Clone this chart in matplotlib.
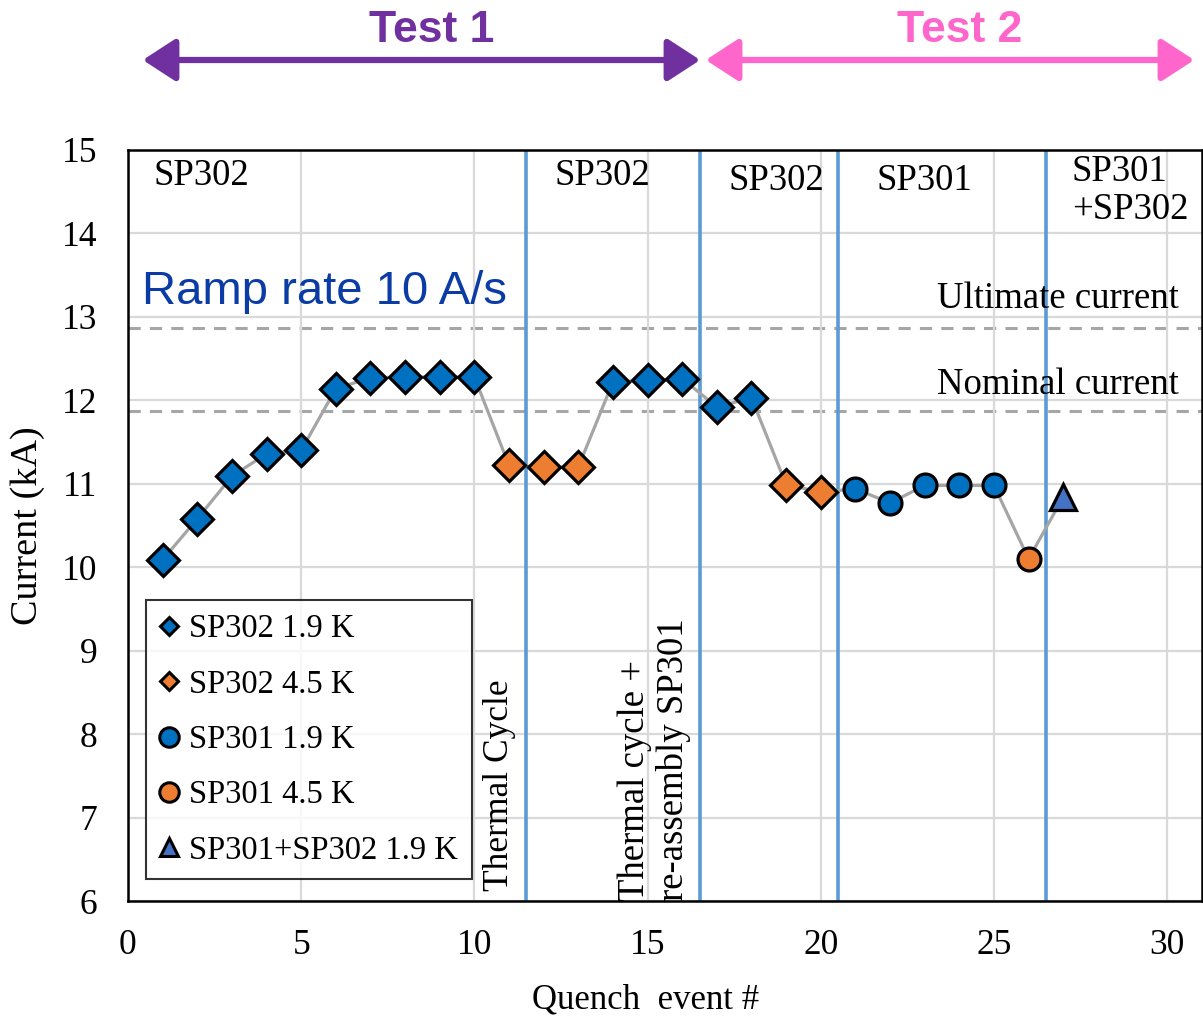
import numpy as np
import matplotlib.pyplot as plt
from matplotlib.lines import Line2D
from matplotlib.patches import FancyArrowPatch

# quench history
events = np.arange(1, 28)
current = [10.09, 10.58, 11.09, 11.36, 11.40, 12.14, 12.27, 12.28, 12.28, 12.28,
           11.22, 11.20, 11.20, 12.22, 12.24, 12.26, 11.92, 12.03, 10.99, 10.90,
           10.94, 10.77, 10.98, 10.98, 10.98, 10.10, 10.84]
series = ['SP302 1.9 K'] * 10 + ['SP302 4.5 K'] * 3 + ['SP302 1.9 K'] * 5 + \
         ['SP302 4.5 K'] * 2 + ['SP301 1.9 K'] * 5 + ['SP301 4.5 K'] + ['SP301+SP302 1.9 K']

series_names = ['SP302 1.9 K', 'SP302 4.5 K', 'SP301 1.9 K', 'SP301 4.5 K', 'SP301+SP302 1.9 K']
series_marker = ['D', 'D', 'o', 'o', '^']
series_color = ['#0070C0', '#ED7D31', '#0070C0', '#ED7D31', '#4472C4']
series_size = [16.5, 16.5, 16.5, 16.5, 19]
legend_size = [9, 9, 14, 14, 13]

separators = [11.5, 16.5, 20.5, 26.5]
ultimate, nominal = 12.87, 11.87

section_labels = ['SP302', 'SP302', 'SP302', 'SP301', 'SP301\n+SP302']
section_x = [0.75, 12.3, 17.35, 21.6, 27.25]
section_y = [14.9, 14.9, 14.84, 14.84, 14.94]

plt.rcParams['font.family'] = ['Liberation Serif', 'DejaVu Serif']

fig = plt.figure(figsize=(12.03, 10.28), dpi=100)
ax = fig.add_axes([0.1064, 0.1235, 0.8926, 0.7306])

ax.set_xlim(0, 31)
ax.set_ylim(6, 15)
ax.set_xticks(np.arange(0, 31, 5))
ax.set_yticks(np.arange(6, 16, 1))
ax.grid(True, color='#D9D9D9', linewidth=1.6, zorder=0)
ax.tick_params(length=0, labelsize=25.5)
ax.tick_params(axis='x', pad=20)
ax.tick_params(axis='y', pad=22)
for s in ax.spines.values():
    s.set_linewidth(1.8)
    s.set_color('black')

ax.axhline(ultimate, color='#A6A6A6', ls=(0, (4, 3)), lw=2.2, zorder=1)
ax.axhline(nominal, color='#A6A6A6', ls=(0, (4, 3)), lw=2.2, zorder=1)
for xv in separators:
    ax.axvline(xv, color='#5B9BD5', lw=2.6, zorder=2)

ax.plot(events, current, color='#A5A5A5', lw=2.3, zorder=3)
for name, m, c, ms in zip(series_names, series_marker, series_color, series_size):
    idx = [i for i, s in enumerate(series) if s == name]
    ax.plot(events[idx], [current[i] for i in idx], ls='none', marker=m, ms=ms,
            mfc=c, mec='black', mew=2.3, zorder=4)

for lab, xx, yy in zip(section_labels, section_x, section_y):
    ax.text(xx, yy, lab, fontsize=26.5, ha='left', va='top', linespacing=1.1)

ax.text(30.35, ultimate + 0.24, 'Ultimate current', fontsize=26.5, ha='right', va='baseline')
ax.text(30.35, nominal + 0.2, 'Nominal current', fontsize=26.5, ha='right', va='baseline')
ax.text(0.4, 13.3, 'Ramp rate 10 A/s', fontsize=34, color='#0B3CA5',
        family='Liberation Sans', ha='left', va='center')

ax.text(10.72, 6.12, 'Thermal Cycle', rotation=90, fontsize=25.5, ha='center', va='bottom')
ax.text(15.2, 6.0, 'Thermal cycle +\nre-assembly SP301', rotation=90, fontsize=26.5,
        ha='center', va='bottom', multialignment='left', linespacing=1.15)

ax.set_xlabel('Quench  event #', fontsize=25, labelpad=18)
ax.xaxis.set_label_coords(0.482, -0.11)
ax.set_ylabel('Current (kA)', fontsize=27.5, labelpad=12)

handles = [Line2D([], [], ls='none', marker=m, ms=ls, mfc=c, mec='black', mew=2.2)
           for m, c, ls in zip(series_marker, series_color, legend_size)]
leg = ax.legend(handles, series_names, loc='lower left', bbox_to_anchor=(0.0167, 0.029),
                fontsize=23.5, frameon=True, fancybox=False, edgecolor='black',
                handlelength=0.6, handletextpad=0.3, labelspacing=0.76,
                borderpad=0.42, borderaxespad=0)
leg.get_frame().set_linewidth(1.5)
leg.set_zorder(6)

# Test 1 / Test 2 arrows above the plot
fig.patches.append(FancyArrowPatch((140 / 1203, 1 - 60 / 1028), (703 / 1203, 1 - 60 / 1028),
                                   transform=fig.transFigure, arrowstyle='<|-|>,head_length=1.0,head_width=0.65',
                                   mutation_scale=20, color='#7030A0', lw=4.5))
fig.patches.append(FancyArrowPatch((703 / 1203, 1 - 60 / 1028), (1197 / 1203, 1 - 60 / 1028),
                                   transform=fig.transFigure, arrowstyle='<|-|>,head_length=1.0,head_width=0.65',
                                   mutation_scale=20, color='#FF66CC', lw=4.5))
fig.text(432 / 1203, 1 - 30 / 1028, 'Test 1', fontsize=32, fontweight='bold', color='#7030A0',
         family='Liberation Sans', ha='center', va='center')
fig.text(960 / 1203, 1 - 30 / 1028, 'Test 2', fontsize=32, fontweight='bold', color='#FF66CC',
         family='Liberation Sans', ha='center', va='center')

fig.savefig('out.png', dpi=100)
